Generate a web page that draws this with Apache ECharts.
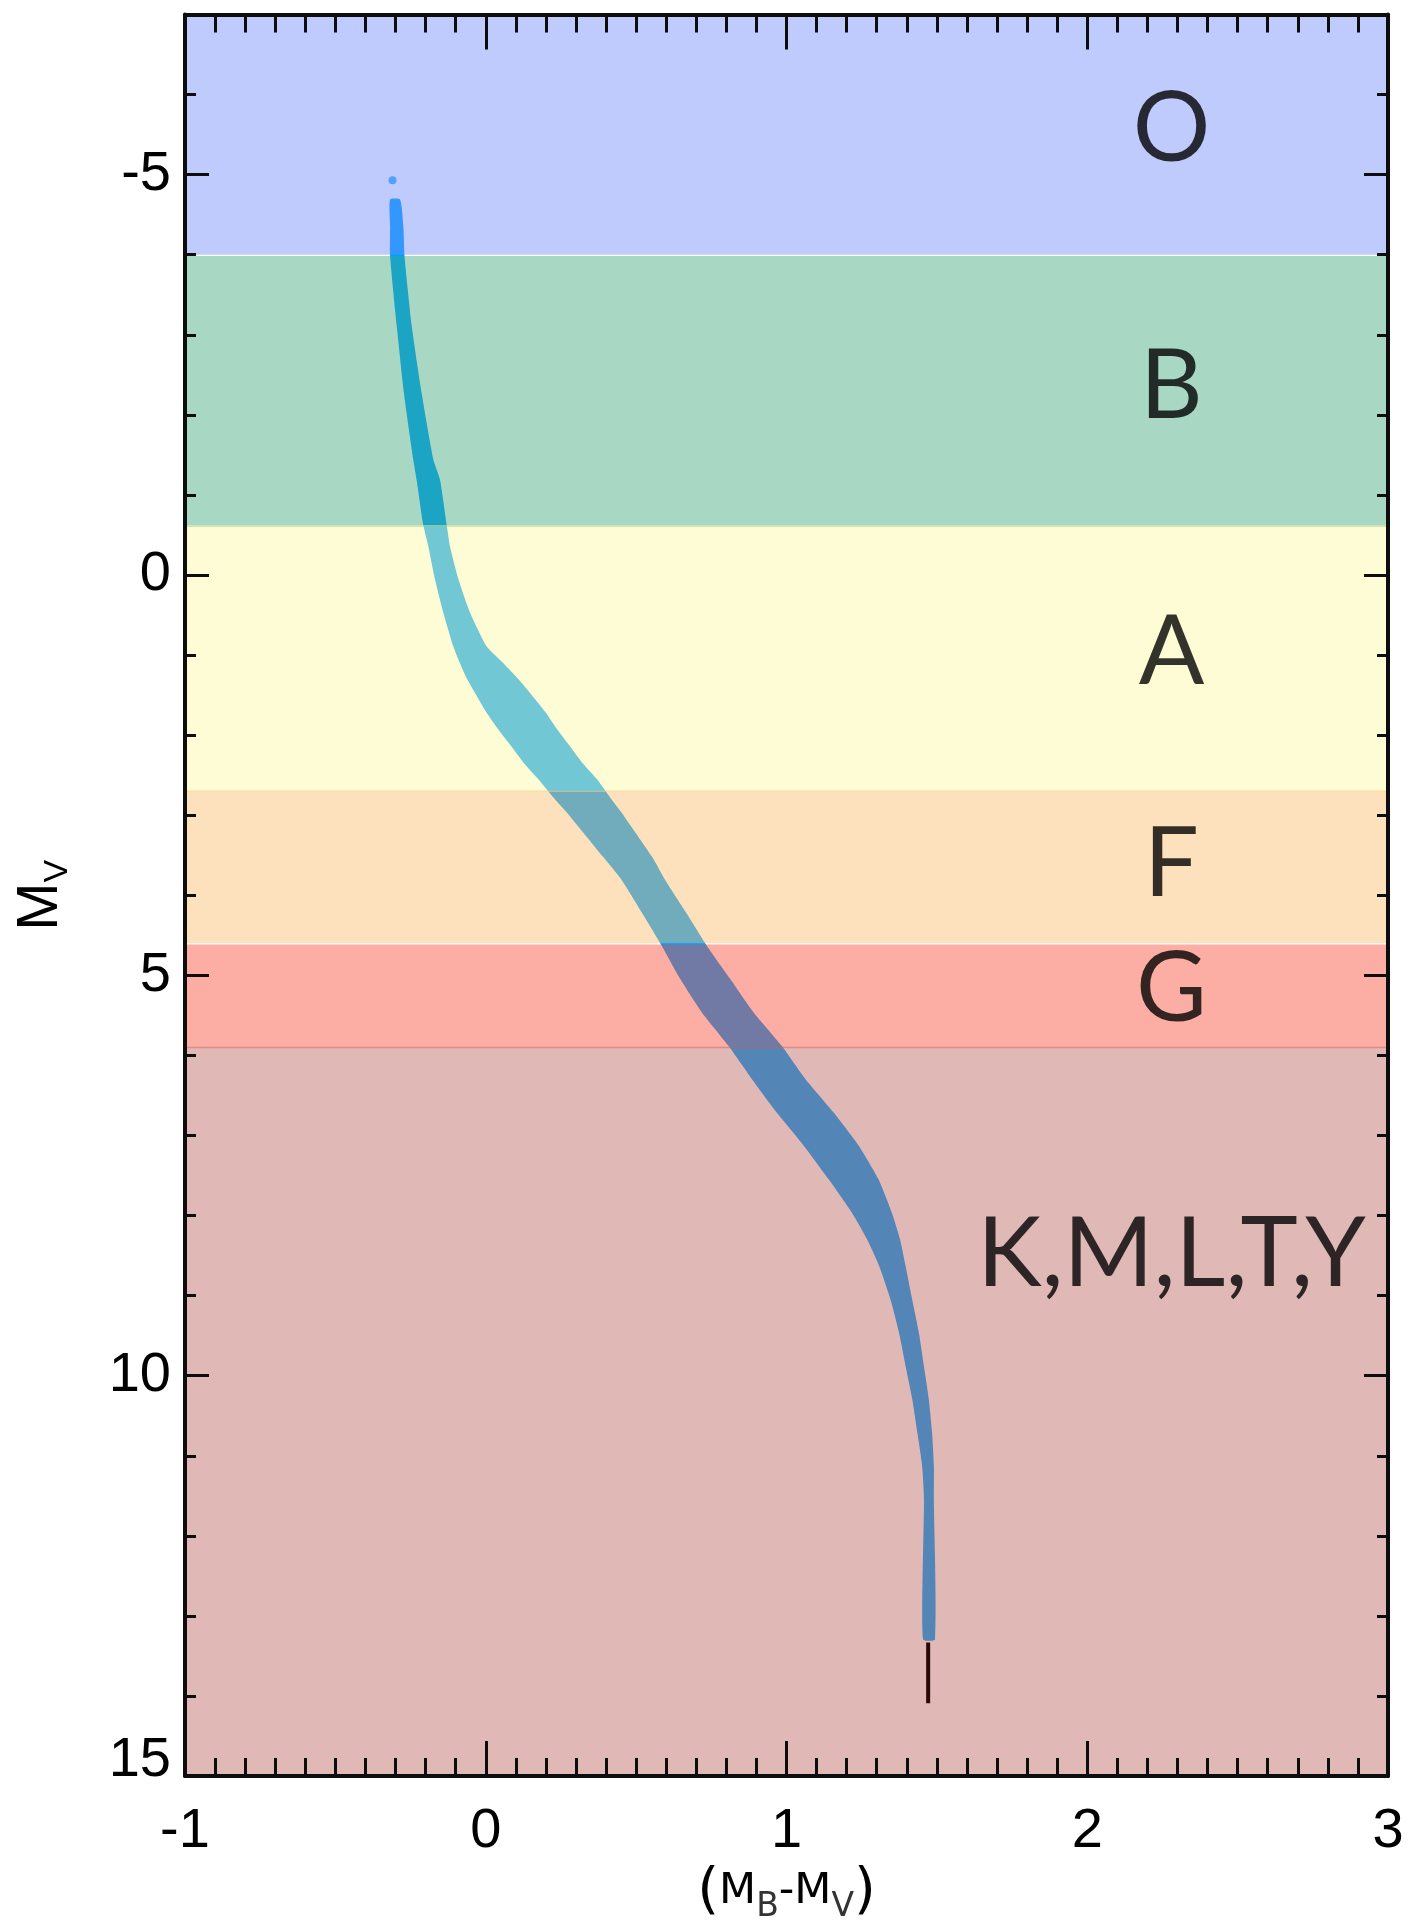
<!DOCTYPE html>
<html>
<head>
<meta charset="utf-8">
<script src="https://cdn.jsdelivr.net/npm/echarts@6/dist/echarts.min.js"></script>
<style>
  html, body { margin: 0; padding: 0; background: #ffffff; }
  #chart { width: 1411px; height: 1929px; }
</style>
</head>
<body>
<div id="chart"></div>
<script>
// Main sequence: absolute magnitude M_V and the blue / red edge of the (M_B - M_V) spread
const bandMv    = [-4.69, -4.35, -3.98, -3.11, -2.27, -1.44, -1.19, -0.63, -0.36, 0.05, 0.47, 0.89, 1.10, 1.30, 1.51, 1.72, 1.93, 2.13, 2.34, 2.55, 2.80, 2.96, 3.52, 3.80, 4.21, 4.63, 5.04, 5.46, 5.88, 6.29, 6.71, 7.12, 7.54, 7.96, 8.29, 8.63, 9.05, 9.46, 9.88, 10.29, 10.71, 11.13, 11.54, 13.29];
const bandLeft  = [-0.318, -0.318, -0.318, -0.296, -0.272, -0.241, -0.230, -0.208, -0.191, -0.169, -0.141, -0.108, -0.086, -0.062, -0.030, 0.003, 0.042, 0.083, 0.125, 0.175, 0.230, 0.268, 0.390, 0.450, 0.518, 0.585, 0.646, 0.718, 0.807, 0.884, 0.967, 1.056, 1.139, 1.217, 1.267, 1.308, 1.346, 1.374, 1.396, 1.418, 1.435, 1.451, 1.457, 1.454];
const bandRight = [-0.285, -0.274, -0.270, -0.246, -0.213, -0.174, -0.152, -0.130, -0.119, -0.091, -0.052, 0.003, 0.058, 0.108, 0.155, 0.200, 0.238, 0.278, 0.320, 0.370, 0.418, 0.450, 0.553, 0.595, 0.665, 0.735, 0.812, 0.890, 0.984, 1.062, 1.156, 1.239, 1.305, 1.350, 1.377, 1.396, 1.418, 1.440, 1.457, 1.473, 1.484, 1.490, 1.490, 1.494];

// Brightest star, isolated above the band
const topStar = [[-0.31, -4.93]];

// Faintest stretch of the sequence (drawn as a thin dark line)
const tailColour = 1.471;
const tailMv = [13.33, 14.09];

// Spectral classes: M_V range and label position
const classNames   = ['O', 'B', 'A', 'F', 'G', 'K,M,L,T,Y'];
const classTop     = [-7, -3.985, -0.625, 2.69, 4.615, 5.89];
const classBottom  = [-4.0, -0.6, 2.71, 4.6, 5.91, 15];
const classLabelMv = [-5.62, -2.42, 0.905, 3.56, 5.12, 8.42];
const classLabelColour = 2.28;

// Axis ticks
const yMajorTicks = [-5, 0, 5, 10, 15];

// Styles
const classFill = [
  'rgba(113,139,251,0.45)',
  'rgba(62,168,124,0.45)',
  'rgba(250,248,159,0.45)',
  'rgba(250,186,106,0.45)',
  'rgba(250,75,53,0.45)',
  'rgba(186,99,95,0.45)'
];
const bandColour = 'rgb(0,160,255)';
const axisColour = '#0d0d0d';
const tickFont = 'Liberation Sans, Arial, sans-serif';
const nameFont = 'DejaVu Sans, sans-serif';

const chart = echarts.init(document.getElementById('chart'), null, { renderer: 'canvas' });

function xAxisDef(pos, withLabels) {
  return {
    type: 'value', position: pos, min: -1, max: 3, interval: 1, z: 10,
    axisLine: { show: true, onZero: false, lineStyle: { color: axisColour, width: 4 } },
    axisTick: { show: true, inside: true, length: 35, lineStyle: { color: axisColour, width: 3 } },
    minorTick: { show: true, splitNumber: 10, length: 18, lineStyle: { color: axisColour, width: 3 } },
    axisLabel: { show: withLabels, fontSize: 56, fontFamily: tickFont, color: '#000', margin: 27 },
    splitLine: { show: false }, minorSplitLine: { show: false }
  };
}
function yMinorDef(pos) {
  return {
    type: 'value', position: pos, min: -7, max: 15, interval: 1, inverse: true, z: 10,
    axisLine: { show: true, onZero: false, lineStyle: { color: axisColour, width: 4 } },
    axisTick: { show: true, inside: true, length: 11, lineStyle: { color: axisColour, width: 3 } },
    axisLabel: { show: false },
    splitLine: { show: false }
  };
}
function yMajorDef(pos, withLabels) {
  return {
    type: 'value', position: pos, min: -7, max: 15, inverse: true, z: 10,
    axisLine: { show: false, onZero: false },
    axisTick: { show: true, inside: true, length: 24, customValues: yMajorTicks, lineStyle: { color: axisColour, width: 3 } },
    axisLabel: {
      show: withLabels, customValues: yMajorTicks,
      fontSize: 56, fontFamily: tickFont, color: '#000', margin: 14,
      // the bottom label sits a little above its tick
      formatter: function (v) { return v === 15 ? '{lift|15}' : String(v); },
      rich: { lift: { fontSize: 56, fontFamily: tickFont, color: '#000', padding: [0, 0, 32, 0] } }
    },
    splitLine: { show: false }
  };
}

const xName = xAxisDef('bottom', true);
xName.name = '{p|(}{m|M}{s|B}{m|-M}{s|V}{p|)}';
xName.nameLocation = 'middle';
xName.nameGap = 76;
xName.nameTextStyle = {
  color: '#000', fontFamily: nameFont,
  rich: {
    p: { fontSize: 56, lineHeight: 64, fontFamily: nameFont, color: '#000' },
    m: { fontSize: 43, lineHeight: 64, fontFamily: nameFont, color: '#000' },
    s: { fontSize: 33, lineHeight: 24, verticalAlign: 'bottom', fontFamily: nameFont, color: '#333' }
  }
};

const yName = yMinorDef('left');
yName.name = '{m|M}{s|V}';
yName.nameLocation = 'middle';
yName.nameRotate = 90;
yName.nameGap = 110;
yName.nameTextStyle = {
  color: '#000', fontFamily: tickFont,
  rich: {
    m: { fontSize: 58, lineHeight: 68, fontFamily: tickFont, color: '#000' },
    s: { fontSize: 34, lineHeight: 25, verticalAlign: 'bottom', fontFamily: tickFont, color: '#000' }
  }
};

const option = {
  animation: false,
  backgroundColor: '#ffffff',
  grid: { left: 185, right: 23, top: 14.5, bottom: 151, containLabel: false },
  xAxis: [xName, xAxisDef('top', false)],
  yAxis: [yName, yMajorDef('left', true), yMinorDef('right'), yMajorDef('right', false)],
  series: [
    {
      // the main-sequence band as a filled outline
      type: 'custom', name: 'main sequence', z: 2, silent: true,
      xAxisIndex: 0, yAxisIndex: 0, clip: true,
      data: [[bandLeft[0], bandMv[0]]],
      renderItem: function (params, api) {
        const pts = [];
        for (let i = 0; i < bandMv.length; i++) pts.push(api.coord([bandLeft[i], bandMv[i]]));
        for (let i = bandMv.length - 1; i >= 0; i--) pts.push(api.coord([bandRight[i], bandMv[i]]));
        return { type: 'polygon', shape: { points: pts, smooth: 0.2 }, style: { fill: bandColour } };
      }
    },
    {
      type: 'scatter', name: 'top star', z: 2, silent: true,
      xAxisIndex: 0, yAxisIndex: 0,
      symbolSize: 8, itemStyle: { color: bandColour },
      data: topStar
    },
    {
      // translucent spectral-class strips laid over the band
      type: 'custom', name: 'classes', z: 3, silent: true,
      xAxisIndex: 0, yAxisIndex: 0, clip: false,
      data: classNames.map(function (n, i) { return [classTop[i], classBottom[i], i]; }),
      renderItem: function (params, api) {
        const i = params.dataIndex;
        const p1 = api.coord([-1, classTop[i]]);
        const p2 = api.coord([3, classBottom[i]]);
        return {
          type: 'rect',
          shape: { x: p1[0], y: p1[1], width: p2[0] - p1[0], height: p2[1] - p1[1] },
          style: { fill: classFill[i] }
        };
      }
    },
    {
      type: 'line', name: 'tail', z: 4, silent: true,
      xAxisIndex: 0, yAxisIndex: 0,
      symbol: 'none',
      lineStyle: { color: '#2a0806', width: 4 },
      data: tailMv.map(function (m) { return [tailColour, m]; })
    },
    {
      type: 'scatter', name: 'class labels', z: 5, silent: true,
      xAxisIndex: 0, yAxisIndex: 0,
      symbolSize: 0,
      data: classNames.map(function (n, i) { return { value: [classLabelColour, classLabelMv[i]], name: n }; }),
      label: {
        show: true, position: 'inside', formatter: '{b}',
        fontFamily: 'Lato, sans-serif', fontSize: 97, color: '#000', offset: [0, 5]
      }
    }
  ]
};

chart.setOption(option);
</script>
</body>
</html>
